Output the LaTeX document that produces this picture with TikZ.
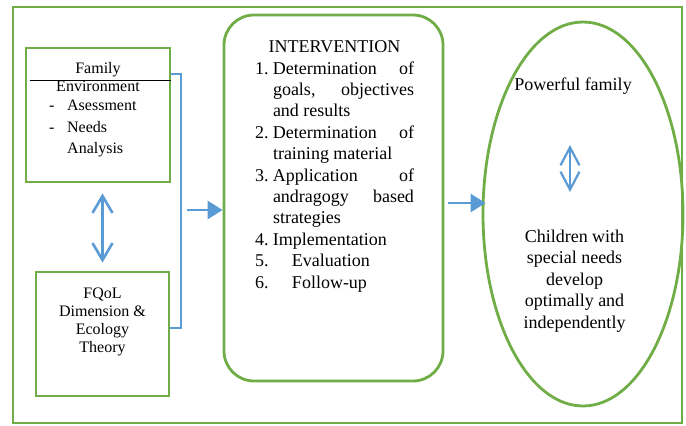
\documentclass[tikz,border=0pt]{standalone}
\usepackage{fontspec}
\setmainfont{Liberation Serif}
\usetikzlibrary{positioning,arrows.meta,calc,shapes.geometric}
\definecolor{frameGreen}{RGB}{112,173,71}
\definecolor{arrowBlue}{RGB}{91,155,213}
\tikzset{
	box/.style={
		draw=frameGreen,
		line width=2.8pt,
		inner sep=0pt,
	},
	roundbox/.style={box, rounded corners=30pt},
	oval/.style={box, ellipse},
	txt/.style={
		inner sep=0pt,
		align=center,
		font=\fontsize{18}{21.4}\selectfont,
	},
	smalltxt/.style={
		inner sep=0pt,
		align=center,
		font=\fontsize{16}{18}\selectfont,
	},
	flow/.style={
		-{Triangle[length=15pt,width=18pt]},
		line width=2.8pt,
		draw=arrowBlue,
	},
	twoway/.style={
		{Straight Barb[length=17pt,width=20pt]}-{Straight Barb[length=17pt,width=20pt]},
		line width=2.6pt,
		draw=arrowBlue,
	},
	twowaysmall/.style={
		{Straight Barb[length=18pt,width=19pt]}-{Straight Barb[length=18pt,width=19pt]},
		line width=2.2pt,
		draw=arrowBlue,
	},
	bracket/.style={draw=arrowBlue, line width=1.3pt},
}

\begin{document}
\begin{tikzpicture}[x=1pt, y=-1pt]
	\useasboundingbox (0,0) rectangle (686,426);
	% --- Frame ---
	\node[box, minimum width=669pt, minimum height=416pt] (frame) at (347.5,215) {};
	
	% --- Left column ---
	\node[box, minimum width=144pt, minimum height=134pt] (famenv) at (98,115) {};
	\node[box, minimum width=133pt, minimum height=124pt] (fqol) at (102.5,334) {};
	\node[smalltxt, anchor=north] (famhead) at (98,62) {Family\\Environment};
	\node[smalltxt, align=left, anchor=north west, font=\fontsize{16}{21.4}\selectfont]
		(famlist) at (49,100) {\makebox[18pt][l]{-}Asessment\\\makebox[18pt][l]{-}Needs\\\hspace*{18pt}Analysis};
	\draw[black, line width=0.9pt] ($(famenv.north west)+(5,34)$) -- ($(famenv.north east)+(0,34)$);
	\node[smalltxt, anchor=north] (fqoltext) at (102.5,288) {FQoL\\Dimension \&\\Ecology\\Theory};
	
	% --- Middle ---
	\node[roundbox, minimum width=219pt, minimum height=366pt] (intervention) at (333.5,198) {};
	\node[txt, anchor=north] (intvtext) at (334.5,37.5) {%
		\begin{tabular}{@{}p{18pt}@{}p{141pt}@{}}
			\multicolumn{2}{c}{INTERVENTION}\\
			1.&Determination\hfill of\\
			&goals,\hfill objectives\\
			&and results\\
			2.&Determination\hfill of\\
			&training material\\
			3.&Application\hfill of\\
			&andragogy\hfill based\\
			&strategies\\
			4.&Implementation\\
			5.&\hspace*{19pt}Evaluation\\
			6.&\hspace*{19pt}Follow-up
		\end{tabular}};
	
	% --- Right ---
	\node[oval, minimum width=200pt, minimum height=384pt] (result) at (583,214) {};
	\node[txt, anchor=base] (pfam) at (573,90) {Powerful family};
	\node[txt, anchor=north, font=\fontsize{18}{21.5}\selectfont] (kids) at (574.5,229.4)
		{Children with\\special needs\\develop\\optimally and\\independently};
	
	% --- Flows ---
	\coordinate (brtop) at (181,74);
	\coordinate (brbot) at (181,328);
	\coordinate (brout) at (187,210);
	\coordinate (intout) at (448,203);
	\draw[bracket] (famenv.east |- brtop) -- (brtop) -- (brbot) -- (fqol.east |- brbot);
	\draw[twoway, shorten <=10pt, shorten >=8pt] (famenv.south -| fqol.north) -- (fqol.north);
	\draw[flow] (brout) -- (intervention.west |- brout);
	\draw[flow, shorten >=-4pt] (intout) -- (result.west |- intout);
	\draw[twowaysmall] ([xshift=-3pt,yshift=-55pt]pfam.base) -- ([xshift=-3pt,yshift=-102pt]pfam.base);
\end{tikzpicture}
\end{document}
